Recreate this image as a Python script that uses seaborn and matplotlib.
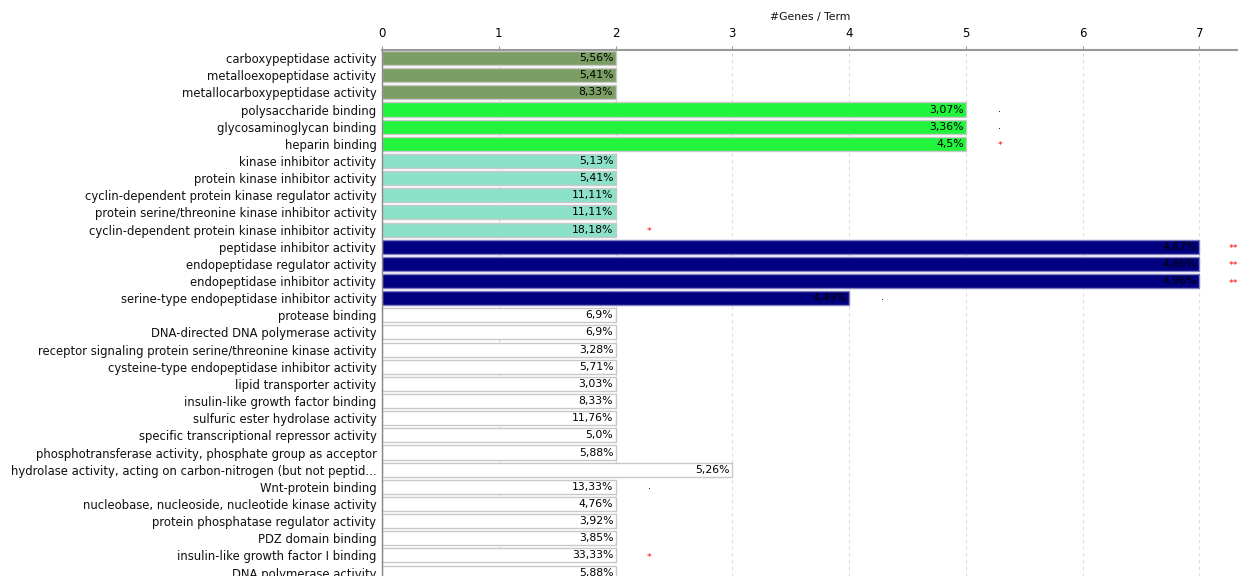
import matplotlib
matplotlib.use("Agg")
import matplotlib.pyplot as plt
import seaborn as sns
import pandas as pd

terms = [
    "carboxypeptidase activity",
    "metalloexopeptidase activity",
    "metallocarboxypeptidase activity",
    "polysaccharide binding",
    "glycosaminoglycan binding",
    "heparin binding",
    "kinase inhibitor activity",
    "protein kinase inhibitor activity",
    "cyclin-dependent protein kinase regulator activity",
    "protein serine/threonine kinase inhibitor activity",
    "cyclin-dependent protein kinase inhibitor activity",
    "peptidase inhibitor activity",
    "endopeptidase regulator activity",
    "endopeptidase inhibitor activity",
    "serine-type endopeptidase inhibitor activity",
    "protease binding",
    "DNA-directed DNA polymerase activity",
    "receptor signaling protein serine/threonine kinase activity",
    "cysteine-type endopeptidase inhibitor activity",
    "lipid transporter activity",
    "insulin-like growth factor binding",
    "sulfuric ester hydrolase activity",
    "specific transcriptional repressor activity",
    "phosphotransferase activity, phosphate group as acceptor",
    "hydrolase activity, acting on carbon-nitrogen (but not peptid...",
    "Wnt-protein binding",
    "nucleobase, nucleoside, nucleotide kinase activity",
    "protein phosphatase regulator activity",
    "PDZ domain binding",
    "insulin-like growth factor I binding",
    "DNA polymerase activity",
]
genes = [2, 2, 2, 5, 5, 5, 2, 2, 2, 2, 2, 7, 7, 7, 4,
         2, 2, 2, 2, 2, 2, 2, 2, 2, 3, 2, 2, 2, 2, 2, 2]
pct_labels = ["5,56%", "5,41%", "8,33%", "3,07%", "3,36%", "4,5%",
              "5,13%", "5,41%", "11,11%", "11,11%", "18,18%",
              "4,67%", "4,86%", "4,96%", "4,49%",
              "6,9%", "6,9%", "3,28%", "5,71%", "3,03%", "8,33%", "11,76%",
              "5,0%", "5,88%", "5,26%", "13,33%", "4,76%", "3,92%", "3,85%",
              "33,33%", "5,88%"]
significance = ["", "", "", ".", ".", "*", "", "", "", "", "*",
                "**", "**", "**", ".", "", "", "", "", "", "", "",
                "", "", "", ".", "", "", "", "*", ""]
groups = ["g1"] * 3 + ["g2"] * 3 + ["g3"] * 5 + ["g4"] * 4 + ["g5"] * 16
group_colors = {"g1": "#7a9e63", "g2": "#20f43c", "g3": "#8ce1c9",
                "g4": "#000080", "g5": "#ffffff"}

df = pd.DataFrame({"term": terms, "genes": genes, "group": groups})

sns.set_style("white")
plt.rcParams["font.family"] = ["DejaVu Sans"]

fig = plt.figure(figsize=(12.38, 5.76), dpi=100)
ax = fig.add_axes([382 / 1238, 0.0, 1 - 382 / 1238, (576 - 50) / 576])

sns.barplot(data=df, x="genes", y="term", hue="group", palette=group_colors,
            dodge=False, legend=False, width=0.82, ax=ax, saturation=1,
            edgecolor="#c8c8c8", linewidth=1.0, orient="h")

# navy bars get a softer bluish outline
for p in ax.patches:
    if p.get_facecolor()[:3] == (0.0, 0.0, 128 / 255):
        p.set_edgecolor("#8080c0")

ax.set_xlim(0, 7.33)
ax.set_ylim(30.2, -0.47)
ax.xaxis.tick_top()
ax.xaxis.set_label_position("top")
ax.set_xticks(range(8))
ax.set_xlabel("#Genes / Term", fontsize=7.8, labelpad=5, color="#111111")
ax.set_ylabel("")
ax.tick_params(axis="x", length=3, width=0.8, colors="#999999",
               labelcolor="black", labelsize=8.5, pad=4)
ax.tick_params(axis="y", length=0, labelsize=8.4, pad=4, labelcolor="#111111")
ax.xaxis.grid(True, linestyle=(0, (3, 3)), color="#dddddd", linewidth=0.8)
ax.set_axisbelow(True)
for side in ["right", "bottom"]:
    ax.spines[side].set_visible(False)
ax.spines["top"].set_color("#999999")
ax.spines["top"].set_linewidth(1.5)
ax.spines["left"].set_color("#888888")
ax.spines["left"].set_linewidth(1.0)

for i, (v, lab, sig) in enumerate(zip(genes, pct_labels, significance)):
    ax.text(v - 0.02, i, lab, ha="right", va="center", fontsize=7.8,
            color="black")
    if sig:
        ax.text(v + 0.29, i + (0.12 if sig != "." else -0.05), sig,
                ha="center", va="center",
                fontsize=6.8 if sig != "." else 7,
                color="red" if sig != "." else "black")

fig.savefig("out.png", dpi=100)
